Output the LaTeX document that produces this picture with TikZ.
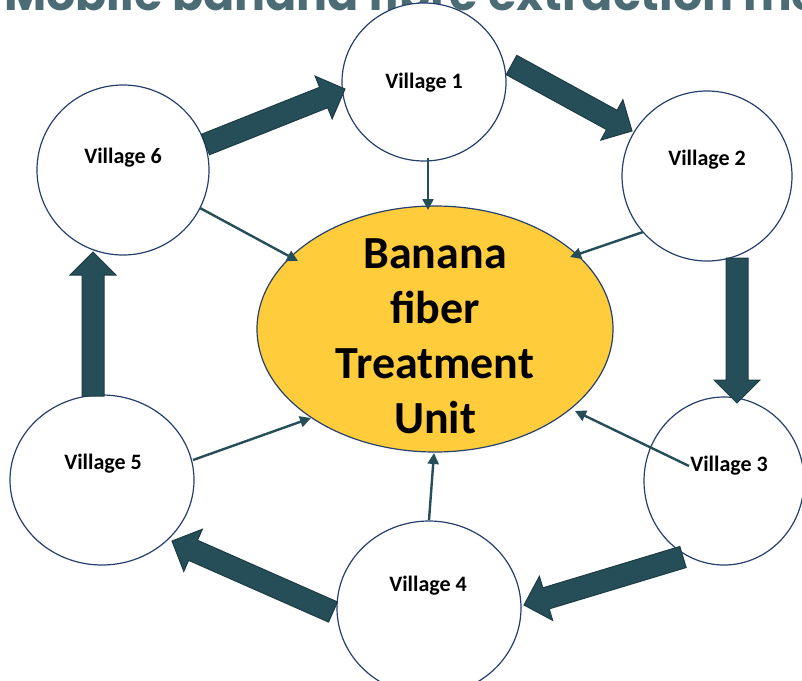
\documentclass[tikz,border=0pt]{standalone}
\usepackage{fontspec}
\setmainfont{Carlito}
\newfontfamily\titlefont{Poppins}
\usetikzlibrary{calc,arrows.meta,shapes.geometric}

\definecolor{ringline}{HTML}{26406E}
\definecolor{arrowfill}{HTML}{264E58}
\definecolor{arrowedge}{HTML}{1C3B43}
\definecolor{unitfill}{HTML}{FFCD3C}
\definecolor{titlecol}{HTML}{4B6C75}

% thick block arrow from tail (#2) to tip (#3); #1 names its head base
\newcommand\blockarrow[3]{%
  \coordinate (#1-h) at ($(#3)!23pt!(#2)$);
  \draw[bigarrow]
    ($(#2)!11pt!90:(#3)$) -- ($(#1-h)!11pt!90:(#3)$) --
    ($(#1-h)!23pt!90:(#3)$) -- (#3) --
    ($(#1-h)!23pt!-90:(#3)$) -- ($(#1-h)!11pt!-90:(#3)$) --
    ($(#2)!11pt!-90:(#3)$) -- cycle;
}

\begin{document}
\begin{tikzpicture}[x=1pt,y=-1pt,
  village/.style={ellipse, draw=ringline, line width=1.2pt, fill=white,
    inner sep=0pt},
  vlabel/.style={font=\bfseries\fontsize{22}{24}\selectfont, text=black},
  bigarrow/.style={fill=arrowfill, draw=arrowedge, line width=1pt,
    line join=miter},
  feed/.style={draw=arrowfill, line width=2.4pt,
    -{Triangle[length=11pt,width=11pt]}},
]
\useasboundingbox (0,0) rectangle (802,680);
\clip (0,0) rectangle (802,680);

% heading, cut off by the top edge
\node[anchor=base west, inner sep=0pt, text=titlecol,
  font=\titlefont\bfseries\fontsize{46}{46}\selectfont] (heading)
  at (4,10) {Mobile banana fibre extraction me};

% the six villages
\node[village, minimum width=164pt, minimum height=158pt] (v1) at (424,82) {};
\node[village, minimum width=170pt, minimum height=170pt] (v2) at (707,176) {};
\node[village, minimum width=160pt, minimum height=168pt] (v3) at (724,481) {};
\node[village, minimum width=184pt, minimum height=174pt] (v4) at (429,608) {};
\node[village, minimum width=184pt, minimum height=170pt] (v5) at (102,480) {};
\node[village, minimum width=172pt, minimum height=170pt] (v6) at (123,170) {};

% central treatment unit
\node[ellipse, draw=ringline, line width=1.2pt, fill=unitfill, inner sep=0pt,
  minimum width=356pt, minimum height=246pt] (unit) at (435,329) {};
\node[align=center, font=\bfseries\fontsize{46}{55}\selectfont] (unittext)
  at (435,336) {Banana\\fiber\\Treatment\\Unit};

% village labels
\node[vlabel] (l1) at (424,83) {Village 1};
\node[vlabel] (l2) at (707,160) {Village 2};
\node[vlabel] (l3) at (729,466) {Village 3};
\node[vlabel] (l4) at (428,586) {Village 4};
\node[vlabel] (l5) at (103,464) {Village 5};
\node[vlabel] (l6) at (123,158) {Village 6};

% ends of the feeder lines
\coordinate (f1a) at (428,158); \coordinate (f1b) at (428,210);
\coordinate (f2a) at (643,232); \coordinate (f2b) at (570,257);
\coordinate (f3a) at (689,466); \coordinate (f3b) at (575,411);
\coordinate (f4a) at (429,520); \coordinate (f4b) at (434,453);
\coordinate (f5a) at (193,460); \coordinate (f5b) at (311,418);
\coordinate (f6a) at (200,208); \coordinate (f6b) at (298,261);

\foreach \i in {1,...,6} \draw[feed] (f\i a) -- (f\i b);

% the round trip between villages
\coordinate (t61) at (205.5,144.5); \coordinate (p61) at (345,89);
\coordinate (t12) at (511.5,65);    \coordinate (p12) at (632,131);
\coordinate (t23) at (737,258);     \coordinate (p23) at (737,403);
\coordinate (t34) at (683,557);     \coordinate (p34) at (524,605);
\coordinate (t45) at (333,612);     \coordinate (p45) at (172,541);
\coordinate (t56) at (93,396);      \coordinate (p56) at (93,252);

\blockarrow{a61}{t61}{p61}
\blockarrow{a12}{t12}{p12}
\blockarrow{a23}{t23}{p23}
\blockarrow{a34}{t34}{p34}
\blockarrow{a45}{t45}{p45}
\blockarrow{a56}{t56}{p56}
\end{tikzpicture}
\end{document}
